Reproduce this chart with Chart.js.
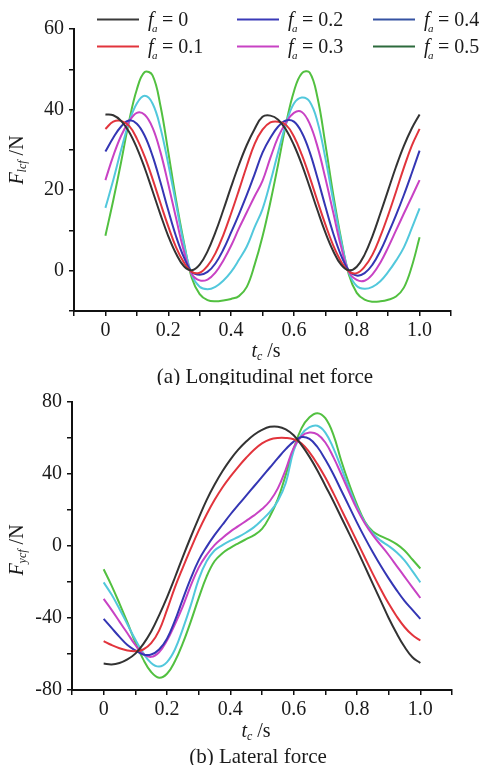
<!DOCTYPE html>
<html>
<head>
<meta charset="utf-8">
<script src="https://cdn.jsdelivr.net/npm/chart.js@4.4.1/dist/chart.umd.min.js"></script>
<style>
  html, body { margin: 0; padding: 0; background: #fff; }
  #wrap { position: relative; width: 491px; height: 765px; }
  .box { position: absolute; left: 0; width: 491px; }
  #boxA { top: 0; height: 385px; }
  #boxB { top: 385px; height: 380px; }
</style>
</head>
<body>
<div id="wrap">
  <div class="box" id="boxA"><canvas id="lonChart" width="491" height="385"></canvas></div>
  <div class="box" id="boxB"><canvas id="latChart" width="491" height="380"></canvas></div>
</div>
<script>
// time axis t_c (s), sampled every 0.025 s
var tSec = [0, 0.025, 0.05, 0.075, 0.1, 0.125, 0.15, 0.175, 0.2, 0.225, 0.25, 0.275, 0.3, 0.325, 0.35, 0.375, 0.4, 0.425, 0.45, 0.475,
            0.5, 0.525, 0.55, 0.575, 0.6, 0.625, 0.65, 0.675, 0.7, 0.725, 0.75, 0.775, 0.8, 0.825, 0.85, 0.875, 0.9, 0.925, 0.95, 0.975, 1.0];

var faLabels = ['0', '0.1', '0.2', '0.3', '0.4', '0.5'];

// (a) longitudinal net force F_lcf (N)
var lonF00 = [38.8, 38.6, 37.2, 34.5, 30.5, 25.5, 19.8, 14.0, 8.6, 4.2, 1.1, 0.1, 1.5, 4.8, 9.5, 15.0, 20.8, 26.3, 31.2, 35.2, 38.2, 38.5, 37.5, 35.0, 31.2, 26.4, 20.8, 15.0, 9.5, 4.9, 1.5, 0.1, 1.0, 4.0, 8.6, 14.2, 20.0, 25.8, 31.0, 35.3, 38.8];
var lonF01 = [35.2, 37.0, 37.2, 36.0, 32.8, 28.3, 22.8, 16.8, 11.0, 5.8, 2.0, -0.3, -0.5, 1.2, 4.3, 8.8, 14.2, 20.0, 26.0, 31.5, 35.0, 36.8, 37.0, 36.2, 33.3, 28.8, 23.3, 17.3, 11.5, 6.3, 2.3, -0.2, -0.6, 1.0, 4.0, 8.5, 13.8, 19.6, 25.6, 31.0, 35.2];
var lonF02 = [29.6, 33.0, 35.8, 37.3, 36.5, 33.5, 28.5, 22.0, 15.0, 8.5, 3.3, -0.3, -1.0, -0.3, 1.8, 5.2, 9.5, 14.0, 18.8, 24.0, 29.3, 33.0, 35.8, 37.3, 37.0, 34.3, 29.5, 23.0, 16.0, 9.3, 3.8, 0.0, -1.2, -0.6, 1.5, 4.9, 9.2, 13.8, 18.8, 24.2, 29.8];
var lonF03 = [22.5, 28.5, 33.5, 37.0, 39.2, 38.7, 35.5, 29.5, 21.5, 13.0, 4.8, -0.8, -2.4, -2.2, -0.5, 2.5, 6.2, 10.5, 14.5, 18.5, 22.3, 28.0, 33.2, 36.8, 39.2, 39.4, 36.5, 30.8, 23.0, 14.5, 6.0, -0.3, -2.3, -2.5, -0.9, 2.0, 5.8, 10.0, 14.2, 18.3, 22.5];
var lonF04 = [15.6, 22.5, 30.0, 36.8, 41.5, 43.4, 41.5, 35.5, 26.5, 16.5, 6.5, -1.0, -4.0, -4.6, -4.0, -2.5, -0.3, 2.7, 6.0, 10.8, 15.3, 22.0, 29.5, 36.5, 41.5, 43.0, 42.0, 37.0, 28.0, 17.5, 7.5, -0.5, -3.8, -4.5, -4.0, -2.6, -0.3, 2.5, 5.8, 10.5, 15.5];
var lonF05 = [8.7, 17.5, 27.0, 37.0, 45.0, 49.3, 48.5, 41.0, 29.5, 17.5, 7.0, -1.8, -5.8, -7.3, -7.6, -7.4, -7.0, -6.3, -4.0, 1.5, 8.5, 17.0, 26.5, 36.5, 44.5, 49.0, 49.2, 43.0, 31.5, 19.0, 8.0, -1.0, -5.5, -7.2, -7.7, -7.6, -7.2, -6.4, -4.2, 1.0, 8.3];

// (b) lateral force F_ycf (N)
var latF00 = [-65.3, -65.8, -65.0, -63.0, -59.8, -54.5, -47.5, -38.5, -28.5, -17.5, -6.0, 5.0, 15.5, 25.5, 34.0, 41.5, 48.0, 53.5, 58.0, 61.8, 64.5, 66.2, 66.3, 64.8, 61.5, 56.0, 49.5, 42.0, 33.5, 25.0, 16.0, 7.0, -2.0, -11.5, -21.0, -30.5, -40.0, -48.5, -56.0, -61.8, -65.0];
var latF01 = [-52.8, -55.0, -56.8, -58.0, -58.4, -57.5, -54.0, -47.0, -35.5, -23.0, -12.0, -1.5, 8.5, 17.5, 25.5, 32.5, 38.5, 44.0, 49.0, 53.5, 57.0, 59.2, 60.0, 60.0, 59.3, 57.0, 52.0, 45.5, 38.0, 29.5, 20.5, 11.5, 2.5, -6.5, -15.5, -24.0, -32.0, -39.0, -45.0, -49.5, -52.5];
var latF02 = [-40.5, -45.5, -50.5, -55.0, -58.0, -60.3, -60.3, -57.5, -51.5, -41.5, -29.5, -18.0, -8.0, -0.5, 6.0, 11.8, 17.5, 22.8, 28.0, 33.2, 38.4, 43.6, 48.8, 53.8, 58.0, 60.5, 59.5, 55.0, 48.0, 40.0, 31.0, 22.0, 13.0, 4.5, -3.5, -11.0, -18.0, -24.5, -30.5, -35.5, -40.5];
var latF03 = [-29.4, -35.5, -42.0, -48.5, -55.0, -60.0, -61.6, -59.0, -52.5, -43.5, -33.5, -22.0, -12.0, -5.0, 0.5, 4.5, 8.0, 11.0, 14.0, 17.0, 20.5, 25.0, 32.0, 42.5, 54.5, 61.0, 63.0, 62.0, 57.5, 49.5, 40.0, 30.0, 20.5, 12.5, 6.0, 0.5, -5.0, -11.0, -17.0, -23.0, -28.9];
var latF04 = [-20.2, -27.0, -35.0, -43.5, -52.0, -59.5, -65.0, -67.0, -64.5, -57.5, -46.0, -33.0, -18.5, -8.5, -2.5, 0.5, 3.0, 5.0, 7.5, 10.5, 14.5, 19.0, 25.0, 35.0, 53.0, 62.0, 66.0, 66.8, 63.0, 54.5, 43.5, 32.0, 21.5, 13.0, 7.0, 3.0, 0.0, -3.5, -8.0, -14.0, -20.2];
var latF05 = [-12.9, -22.0, -32.0, -42.5, -53.5, -63.0, -70.0, -73.2, -71.0, -64.0, -54.0, -42.0, -29.0, -17.0, -8.5, -4.0, -1.0, 1.5, 3.8, 6.0, 9.5, 16.5, 26.0, 39.5, 54.0, 65.5, 71.5, 73.8, 71.0, 62.0, 47.5, 34.5, 23.0, 13.5, 8.0, 5.5, 3.5, 1.0, -2.5, -7.5, -12.5];

var lineColors = ['#333333', '#e2343c', '#3436b4', '#c842c4', '#52c8dc', '#52c040'];
// legend swatches in the figure use darker tones for the last two entries
var legendColors = ['#3a3a3a', '#e2343c', '#3a3ab8', '#c842c4', '#3552a2', '#2c6a3c'];

var SERIF = '"Liberation Serif", "Times New Roman", serif';
var INK = '#1a1a1a';

function toPoints(vals) {
    return vals.map(function (v, i) { return { x: tSec[i], y: v }; });
}

function makeDatasets(series) {
    return series.map(function (vals, i) {
        return {
            label: 'fa = ' + faLabels[i],
            data: toPoints(vals),
            borderColor: lineColors[i],
            borderWidth: 2,
            pointRadius: 0,
            tension: 0.4,
            fill: false
        };
    });
}

// draw a run of text pieces: [text, font, dy]
function drawParts(ctx, parts, x, y, align) {
    var w = 0;
    parts.forEach(function (p) { ctx.font = p[1]; w += ctx.measureText(p[0]).width; });
    var cx = align === 'center' ? x - w / 2 : x;
    parts.forEach(function (p) {
        ctx.font = p[1];
        ctx.fillText(p[0], cx, y + (p[2] || 0));
        cx += ctx.measureText(p[0]).width;
    });
}

var IT = 'italic 20px ' + SERIF;
var SUB = 'italic 12px ' + SERIF;
var REG = '20px ' + SERIF;
var CAP = '21px ' + SERIF;

function decorPlugin(cfg) {
    return {
        id: 'decor',
        afterDraw: function (chart) {
            var ctx = chart.ctx;
            ctx.save();
            ctx.fillStyle = INK;
            ctx.textBaseline = 'middle';
            // x title
            drawParts(ctx, [['t', IT], ['c', SUB, 5], [' /s', REG]], cfg.xTitle[0], cfg.xTitle[1], 'center');
            // caption
            drawParts(ctx, [[cfg.caption, CAP]], cfg.capPos[0], cfg.capPos[1], 'center');
            // y title, rotated
            ctx.save();
            ctx.translate(cfg.yTitle[0], cfg.yTitle[1]);
            ctx.rotate(-Math.PI / 2);
            drawParts(ctx, [['F', IT], [cfg.ySub, SUB, 5], [' /N', REG]], 0, 0, 'center');
            ctx.restore();
            // legend
            if (cfg.legend) {
                var colX = [97, 237, 373];
                var rowY = [19.5, 46.5];
                faLabels.forEach(function (lab, i) {
                    var lx = colX[Math.floor(i / 2)], ly = rowY[i % 2];
                    ctx.strokeStyle = legendColors[i];
                    ctx.lineWidth = 2;
                    ctx.beginPath();
                    ctx.moveTo(lx, ly);
                    ctx.lineTo(lx + 42, ly);
                    ctx.stroke();
                    var tx = lx + 51;
                    ctx.font = IT;
                    ctx.fillText('f', tx, ly + 1);
                    ctx.font = 'italic 11px ' + SERIF;
                    ctx.fillText('a', tx + 4, ly + 10);
                    ctx.font = REG;
                    ctx.fillText('= ' + lab, tx + 14, ly + 1);
                });
            }
            ctx.restore();
        }
    };
}

function axisOptions(yMin, yMax, yStep, yLabelEvery, yWidth) {
    var axisLine = { display: true, color: '#111', width: 2 };
    var tickGrid = { drawOnChartArea: false, drawTicks: true, tickLength: 5, color: '#111', lineWidth: 1.5 };
    return {
        x: {
            type: 'linear',
            min: -0.1,
            max: 1.1,
            border: axisLine,
            grid: tickGrid,
            afterFit: function (s) { s.height = 40; },
            ticks: {
                stepSize: 0.1,
                padding: 3,
                color: INK,
                font: { family: SERIF, size: 20 },
                maxRotation: 0,
                autoSkip: false,
                callback: function (v) {
                    var r = Math.round(v * 10);
                    if (r < 0 || r > 10 || r % 2) return '';
                    return r === 0 ? '0' : (r / 10).toFixed(1);
                }
            }
        },
        y: {
            min: yMin,
            max: yMax,
            border: axisLine,
            grid: tickGrid,
            afterFit: function (s) { s.width = yWidth; },
            ticks: {
                stepSize: yStep,
                padding: 5,
                color: INK,
                font: { family: SERIF, size: 20 },
                autoSkip: false,
                callback: function (v) {
                    return (v % yLabelEvery === 0 && v >= yMin + (yMin % yLabelEvery ? yStep : 0)) ? String(v) : '';
                }
            }
        }
    };
}

var lonChart = new Chart(document.getElementById('lonChart').getContext('2d'), {
    type: 'line',
    data: { datasets: makeDatasets([lonF00, lonF01, lonF02, lonF03, lonF04, lonF05]) },
    options: {
        responsive: false,
        animation: false,
        layout: { padding: { top: 29, right: 40, bottom: 34, left: 0 } },
        plugins: { legend: { display: false }, tooltip: { enabled: false } },
        scales: axisOptions(-10, 60, 10, 20, 74)
    },
    plugins: [decorPlugin({
        xTitle: [266, 352], capPos: [265, 377], yTitle: [18, 160],
        ySub: 'lcf', caption: '(a) Longitudinal net force', legend: true
    })]
});

var latChart = new Chart(document.getElementById('latChart').getContext('2d'), {
    type: 'line',
    data: { datasets: makeDatasets([latF00, latF01, latF02, latF03, latF04, latF05]) },
    options: {
        responsive: false,
        animation: false,
        layout: { padding: { top: 14, right: 39, bottom: 35, left: 0 } },
        plugins: { legend: { display: false }, tooltip: { enabled: false } },
        scales: axisOptions(-80, 80, 20, 40, 72)
    },
    plugins: [decorPlugin({
        xTitle: [256, 347], capPos: [258, 372], yTitle: [18, 165],
        ySub: 'ycf', caption: '(b) Lateral force', legend: false
    })]
});
</script>
</body>
</html>
